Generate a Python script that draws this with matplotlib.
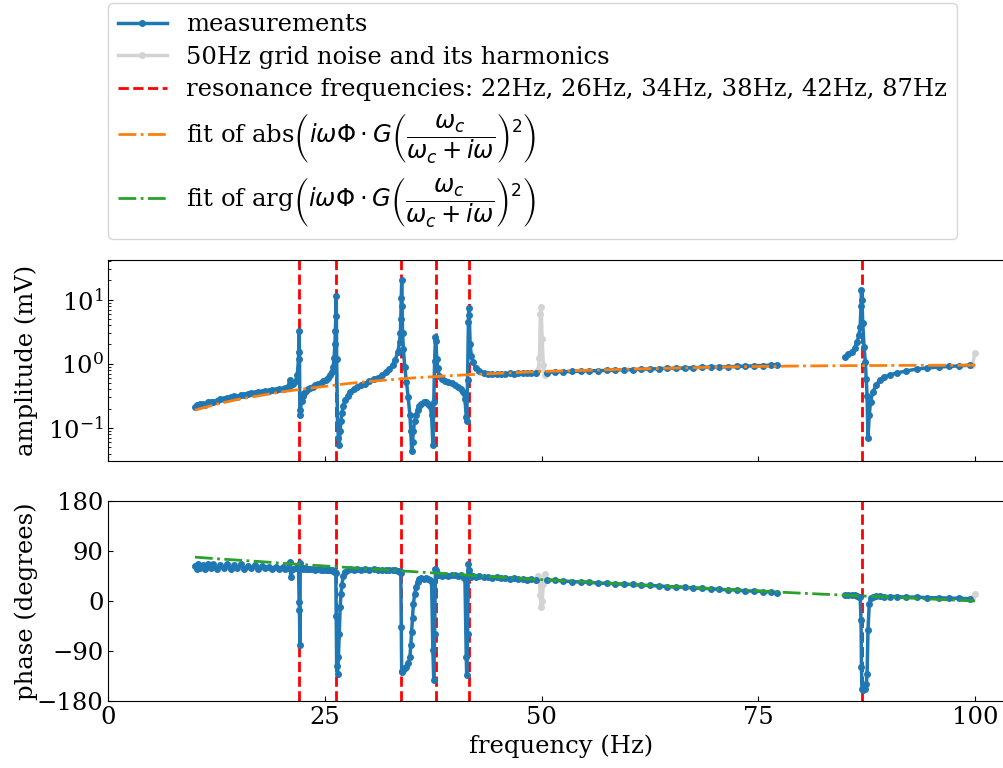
import numpy as np
import matplotlib
matplotlib.use("Agg")
import matplotlib.pyplot as plt

plt.rcParams["font.family"] = "serif"
plt.rcParams["font.serif"] = ["DejaVu Serif"]
plt.rcParams["font.size"] = 17.5

# measured transfer function, 10 - 49.4 Hz
freq_lo = [10.0, 10.2, 10.4, 10.6, 10.9, 11.2, 11.5, 11.8, 12.1, 12.5, 12.9, 13.3, 13.7, 14.1,
           14.5, 14.9, 15.3, 15.7, 16.1, 16.5, 16.9, 17.3, 17.7, 18.1, 18.5, 18.9, 19.3, 19.7,
           20.1, 20.4, 20.7, 20.95, 21.05, 21.3, 21.6, 21.8, 21.95, 22.02, 22.06, 22.1, 22.15,
           22.3, 22.45, 22.6, 22.8, 23.0, 23.3, 23.6, 23.9, 24.2, 24.5, 24.8, 25.1, 25.4, 25.6,
           25.8, 25.95, 26.05, 26.15, 26.2, 26.25, 26.3, 26.35, 26.45, 26.55, 26.65, 26.75, 26.85,
           26.95, 27.1, 27.3, 27.6, 27.9, 28.3, 28.7, 29.1, 29.6, 30.1, 30.6, 31.1, 31.6, 32.0,
           32.4, 32.8, 33.1, 33.4, 33.6, 33.7, 33.75, 33.8, 33.85, 33.9, 33.95, 34.05, 34.2, 34.4,
           34.6, 34.8, 34.9, 35.0, 35.1, 35.2, 35.35, 35.5, 35.7, 35.9, 36.1, 36.4, 36.7, 36.9,
           37.1, 37.3, 37.45, 37.55, 37.65, 37.75, 37.8, 37.9, 38.0, 38.2, 38.5, 38.8, 39.2, 39.6,
           40.0, 40.4, 40.7, 40.95, 41.15, 41.3, 41.35, 41.45, 41.55, 41.6, 41.65, 41.75, 41.9,
           42.1, 42.4, 42.8, 43.3, 43.8, 44.3, 44.8, 45.3, 45.8, 46.3, 46.8, 47.3, 47.8, 48.3,
           48.8, 49.4]
amp_lo = [0.210, 0.228, 0.218, 0.235, 0.240, 0.232, 0.250, 0.258, 0.252, 0.268, 0.280, 0.284,
          0.292, 0.300, 0.312, 0.302, 0.322, 0.330, 0.334, 0.346, 0.350, 0.362, 0.366, 0.372,
          0.382, 0.390, 0.396, 0.402, 0.410, 0.420, 0.432, 0.55, 0.47, 0.48, 0.53, 0.66, 1.2,
          3.3, 1.5, 0.16, 0.19, 0.26, 0.31, 0.35, 0.38, 0.40, 0.42, 0.44, 0.46, 0.48, 0.50, 0.53,
          0.56, 0.60, 0.66, 0.75, 0.90, 1.25, 2.0, 3.3, 5.5, 11.3, 1.2, 0.12, 0.07, 0.054, 0.09,
          0.13, 0.17, 0.22, 0.27, 0.32, 0.36, 0.40, 0.43, 0.46, 0.49, 0.53, 0.57, 0.61, 0.67,
          0.74, 0.83, 0.96, 1.15, 1.5, 2.2, 3.0, 5.0, 10.5, 20.0, 8.0, 3.0, 1.7, 0.9, 0.52, 0.30,
          0.16, 0.09, 0.044, 0.06, 0.09, 0.13, 0.16, 0.19, 0.22, 0.24, 0.255, 0.25, 0.24, 0.22,
          0.16, 0.054, 0.25, 1.1, 2.6, 2.3, 1.2, 0.85, 0.65, 0.57, 0.54, 0.52, 0.50, 0.47, 0.44,
          0.40, 0.36, 0.28, 0.15, 0.13, 0.55, 4.5, 7.3, 5.8, 2.0, 1.3, 1.05, 0.85, 0.76, 0.72,
          0.70, 0.69, 0.70, 0.69, 0.70, 0.71, 0.70, 0.72, 0.71, 0.72, 0.71, 0.72]
phase_lo = [63, 57, 67, 60, 65, 57, 66, 60, 67, 58, 65, 59, 66, 57, 64, 60, 66, 58, 63, 59, 64,
            57, 63, 59, 62, 57, 62, 58, 61, 57, 60, 70, 43, 58, 60, 59, 58, -2, -17, -80, 68, 60,
            58, 59, 58, 58, 57, 58, 56, 57, 56, 56, 55, 56, 55, 55, 54, 54, 53, 52, 50, -27, -117,
            -131, -101, -59, -11, 13, 28, 45, 52, 55, 57, 56, 57, 56, 57, 56, 57, 56, 56, 55, 56,
            55, 55, 54, 54, 53, 50, -47, -128, -126, -125, -123, -121, -119, -112, -101, -80, -56,
            -30, -5, 12, 25, 35, 40, 41, 40, 41, 40, 38, 34, -89, -143, -60, 58, 55, 50, 47, 46,
            45, 46, 45, 47, 46, 45, 46, 44, 40, -101, -134, -60, 67, 55, 48, 46, 44, 45, 44, 45,
            43, 44, 42, 43, 41, 42, 40, 41, 39, 40, 38, 39, 37]

# 50.6 - 77 Hz
freq_mid = [50.6, 51.5, 52.5, 53.5, 54.5, 55.5, 56.5, 57.5, 58.5, 59.5, 60.5, 61.5, 62.5, 63.5,
            64.5, 65.5, 66.5, 67.5, 68.5, 69.5, 70.5, 71.5, 72.5, 73.5, 74.5, 75.5, 76.5, 77.1]
amp_mid = [0.73, 0.75, 0.75, 0.76, 0.77, 0.78, 0.78, 0.79, 0.80, 0.81, 0.81, 0.82, 0.83, 0.84,
           0.85, 0.85, 0.86, 0.87, 0.88, 0.89, 0.89, 0.90, 0.91, 0.92, 0.93, 0.94, 0.95, 0.97]
phase_mid = [38, 37, 36, 35, 34, 34, 32, 32, 31, 30, 30, 28, 28, 27, 26, 25, 25, 23, 23, 22,
             21, 20, 20, 18, 18, 17, 16, 15]

# 85 - 99.4 Hz
freq_hi = [85.0, 85.4, 85.8, 86.1, 86.4, 86.6, 86.75, 86.85, 86.9, 86.95, 87.05, 87.2, 87.35,
           87.45, 87.55, 87.65, 87.8, 87.95, 88.2, 88.6, 89.0, 89.5, 90.2, 91.0, 92.0, 93.3,
           94.5, 95.8, 97.0, 98.2, 99.4]
amp_hi = [1.29, 1.40, 1.55, 1.75, 2.2, 2.8, 3.8, 8.0, 14.1, 10.0, 4.3, 1.84, 1.07, 0.59, 0.31,
          0.069, 0.16, 0.256, 0.36, 0.47, 0.55, 0.62, 0.67, 0.72, 0.77, 0.83, 0.86, 0.89, 0.91,
          0.93, 0.95]
phase_hi = [10, 11, 10, 10, 9, 8, 7, -35, -119, -158, -160, -158, -158, -150, -131, -53, -5, 6,
            8, 9, 9, 8, 8, 8, 7, 7, 6, 6, 5, 5, 4]

# mains pickup at 50 Hz and 100 Hz
freq_50 = [49.4, 49.6, 49.75, 49.85, 49.95, 50.05, 50.2, 50.35, 50.6]
amp_50 = [0.72, 0.80, 1.21, 5.9, 7.7, 2.4, 0.95, 0.67, 0.73]
phase_50 = [37, 45, 37, 10, -11, 0, 30, 49, 38]
freq_100 = [99.4, 99.7, 100.0]
amp_100 = [0.95, 0.97, 1.45]
phase_100 = [4, 5, 13]

resonances = [22.0, 26.3, 33.8, 37.8, 41.6, 87.0]
resonance_labels = ["22Hz", "26Hz", "34Hz", "38Hz", "42Hz", "87Hz"]

# fitted model
fit_freq = [10, 12.5, 15, 17.5, 20, 22.5, 25, 27.5, 30, 35, 40, 45, 50, 55, 60, 65, 70, 75, 80,
            85, 90, 95, 100]
fit_abs = [0.19, 0.235, 0.28, 0.32, 0.365, 0.405, 0.445, 0.49, 0.53, 0.60, 0.66, 0.71, 0.76,
           0.79, 0.825, 0.855, 0.885, 0.91, 0.925, 0.935, 0.942, 0.948, 0.952]
fit_arg = [79, 76, 73.5, 71, 68, 65.5, 63, 60.5, 58, 53, 48, 43, 38.5, 34.5, 30, 26, 22, 18, 14,
           10.5, 7, 3.5, 0]

gap = [np.nan]
freq_meas = freq_lo + gap + freq_mid + gap + freq_hi
amp_meas = amp_lo + gap + amp_mid + gap + amp_hi
phase_meas = phase_lo + gap + phase_mid + gap + phase_hi
freq_grid = freq_50 + gap + freq_100
amp_grid = amp_50 + gap + amp_100
phase_grid = phase_50 + gap + phase_100

W, H = 1004, 768
fig = plt.figure(figsize=(W / 100, H / 100), dpi=100)
x0 = 108.3 / W
w = (1014 - 108.3) / W
ax1 = fig.add_axes([x0, 1 - 461 / H, w, 201 / H])
ax2 = fig.add_axes([x0, 1 - 701 / H, w, 200 / H], sharex=ax1)

meas_style = dict(color="C0", marker=".", ms=8, lw=2.5)
grid_style = dict(color="lightgray", marker=".", ms=8, lw=2.5)

l_meas, = ax1.plot(freq_meas, amp_meas, label="measurements", zorder=3, **meas_style)
l_grid, = ax1.plot(freq_grid, amp_grid, label="50Hz grid noise and its harmonics", zorder=2,
                   **grid_style)
ax2.plot(freq_meas, phase_meas, zorder=3, **meas_style)
ax2.plot(freq_grid, phase_grid, zorder=2, **grid_style)

res_label = "resonance frequencies: " + ", ".join(resonance_labels)
res_lines = []
for ax in (ax1, ax2):
    for f in resonances:
        res_lines.append(ax.axvline(f, color="red", ls="--", lw=2, zorder=2))
res_lines[0].set_label(res_label)

frac = r"\left(i\omega\Phi\cdot G\left(\dfrac{\omega_c}{\omega_c+i\omega}\right)^2\right)"
l_abs, = ax1.plot(fit_freq, fit_abs, color="C1", ls="-.", lw=2, zorder=4,
                  label="fit of abs$" + frac + "$")
l_arg, = ax2.plot(fit_freq, fit_arg, color="C2", ls="-.", lw=2, zorder=4,
                  label="fit of arg$" + frac + "$")

ax1.set_yscale("log")
ax1.set_ylim(0.0306, 41.4)
ax1.set_ylabel("amplitude (mV)")
ax2.set_ylim(-180, 180)
ax2.set_yticks([-180, -90, 0, 90, 180])
ax2.set_ylabel("phase (degrees)")
ax2.set_xlim(0, 104.5)
ax2.set_xticks([0, 25, 50, 75, 100])
ax2.set_xlabel("frequency (Hz)")
plt.setp(ax1.get_xticklabels(), visible=False)

for ax in (ax1, ax2):
    ax.tick_params(which="both", direction="in")
    ax.yaxis.set_label_coords(-0.0776, 0.5)

fig.legend(handles=[l_meas, l_grid, res_lines[0], l_abs, l_arg], loc="upper left",
           bbox_to_anchor=(x0, 1 - 3.3 / H), borderaxespad=0, labelspacing=0.4)

fig.savefig("out.png", dpi=100)
